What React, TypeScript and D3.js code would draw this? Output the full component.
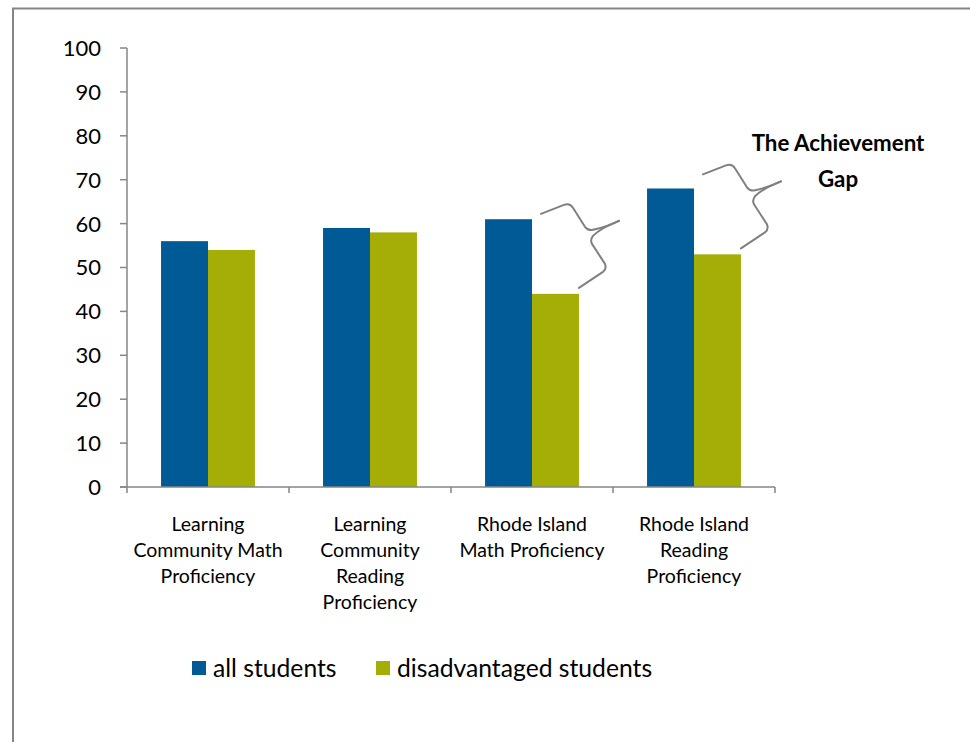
import React from "react";
import * as d3 from "d3";

const categories = [
  ["Learning", "Community Math", "Proficiency"],
  ["Learning", "Community", "Reading", "Proficiency"],
  ["Rhode Island", "Math Proficiency"],
  ["Rhode Island", "Reading", "Proficiency"],
];
const allStudents = [56, 59, 61, 68];
const disadvantaged = [54, 58, 44, 53];
const yTicks = [0, 10, 20, 30, 40, 50, 60, 70, 80, 90, 100];
const seriesNames = ["all students", "disadvantaged students"];
const braceGroups = [2, 3];

const BLUE = "#005A96";
const GREEN = "#A5AE06";
const AXIS = "#868686";
const FONT = "Lato, 'Open Sans', sans-serif";

export default function App() {
  const W = 970, H = 742;
  const x = d3.scaleBand<number>().domain(d3.range(categories.length)).range([127, 775]);
  const y = d3.scaleLinear().domain([0, 100]).range([487, 48]);
  const inner = d3.scaleBand<number>().domain([0, 1]).range([0, x.bandwidth()]).paddingOuter(0.725).paddingInner(0);
  const series = [allStudents, disadvantaged];
  const colors = [BLUE, GREEN];

  const braceTop = "M-38,-74 L-15,-83 Q-9,-85 -6,-80 L6,-61 Q9,-57 14,-58 Q28,-61 40,-67";
  const braceBottom = "M40,-67 Q22,-60 14,-52 Q11,-48 13,-44 L26,-24 Q28,-19 24,-16 L0,0";

  return (
    <svg width={W} height={H} style={{ position: "absolute", left: 0, top: 0, display: "block" }}>
      <rect x={0} y={0} width={W} height={H} fill="#fff" />
      <path d={`M13,${H} L13,8.5 L${W},8.5`} fill="none" stroke={AXIS} strokeWidth={2} />
      {/* bars */}
      {series.map((vals, si) =>
        vals.map((v, i) => (
          <rect
            key={`${si}-${i}`}
            x={(x(i) as number) + (inner(si) as number)}
            y={y(v)}
            width={inner.bandwidth()}
            height={y(0) - y(v)}
            fill={colors[si]}
          />
        ))
      )}
      {/* y axis */}
      <line x1={127} x2={127} y1={y(100)} y2={y(0)} stroke={AXIS} strokeWidth={1.5} />
      {yTicks.map((t) => (
        <g key={t}>
          <line x1={120} x2={127} y1={y(t)} y2={y(t)} stroke={AXIS} strokeWidth={1.5} />
          <text x={101} y={y(t)} dy="0.36em" textAnchor="end" fontFamily={FONT} fontSize={22} fill="#000">
            {t}
          </text>
        </g>
      ))}
      {/* x axis */}
      <line x1={120} x2={775} y1={y(0)} y2={y(0)} stroke={AXIS} strokeWidth={1.5} />
      {d3.range(categories.length + 1).map((i) => {
        const xx = i < categories.length ? (x(i) as number) : x.range()[1];
        return <line key={i} x1={xx} x2={xx} y1={y(0)} y2={y(0) + 6} stroke={AXIS} strokeWidth={1.5} />;
      })}
      {categories.map((lines, i) => (
        <text key={i} textAnchor="middle" fontFamily={FONT} fontSize={19.5} fill="#000">
          {lines.map((l, j) => (
            <tspan key={j} x={(x(i) as number) + x.bandwidth() / 2} y={531 + j * 26}>
              {l}
            </tspan>
          ))}
        </text>
      ))}
      {/* braces */}
      {braceGroups.map((i) => {
        const bx = (x(i) as number) + (inner(1) as number) + inner.bandwidth();
        const by = y(disadvantaged[i]) - 6;
        return (
          <g key={i} transform={`translate(${bx},${by})`} fill="none" stroke="#808080" strokeWidth={2} strokeLinecap="round" strokeLinejoin="round">
            <path d={braceTop} />
            <path d={braceBottom} />
          </g>
        );
      })}
      <text textAnchor="middle" fontFamily={FONT} fontSize={22.3} fontWeight="bold" fill="#000">
        <tspan x={838} y={151}>The Achievement</tspan>
        <tspan x={838} y={187}>Gap</tspan>
      </text>
      {/* legend */}
      <rect x={192} y={661} width={14} height={14} fill={BLUE} />
      <text x={213} y={668} dy="0.36em" fontFamily={FONT} fontSize={24.7} fill="#000">{seriesNames[0]}</text>
      <rect x={376} y={661} width={14} height={14} fill={GREEN} />
      <text x={397} y={668} dy="0.36em" fontFamily={FONT} fontSize={24.7} fill="#000">{seriesNames[1]}</text>
    </svg>
  );
}
